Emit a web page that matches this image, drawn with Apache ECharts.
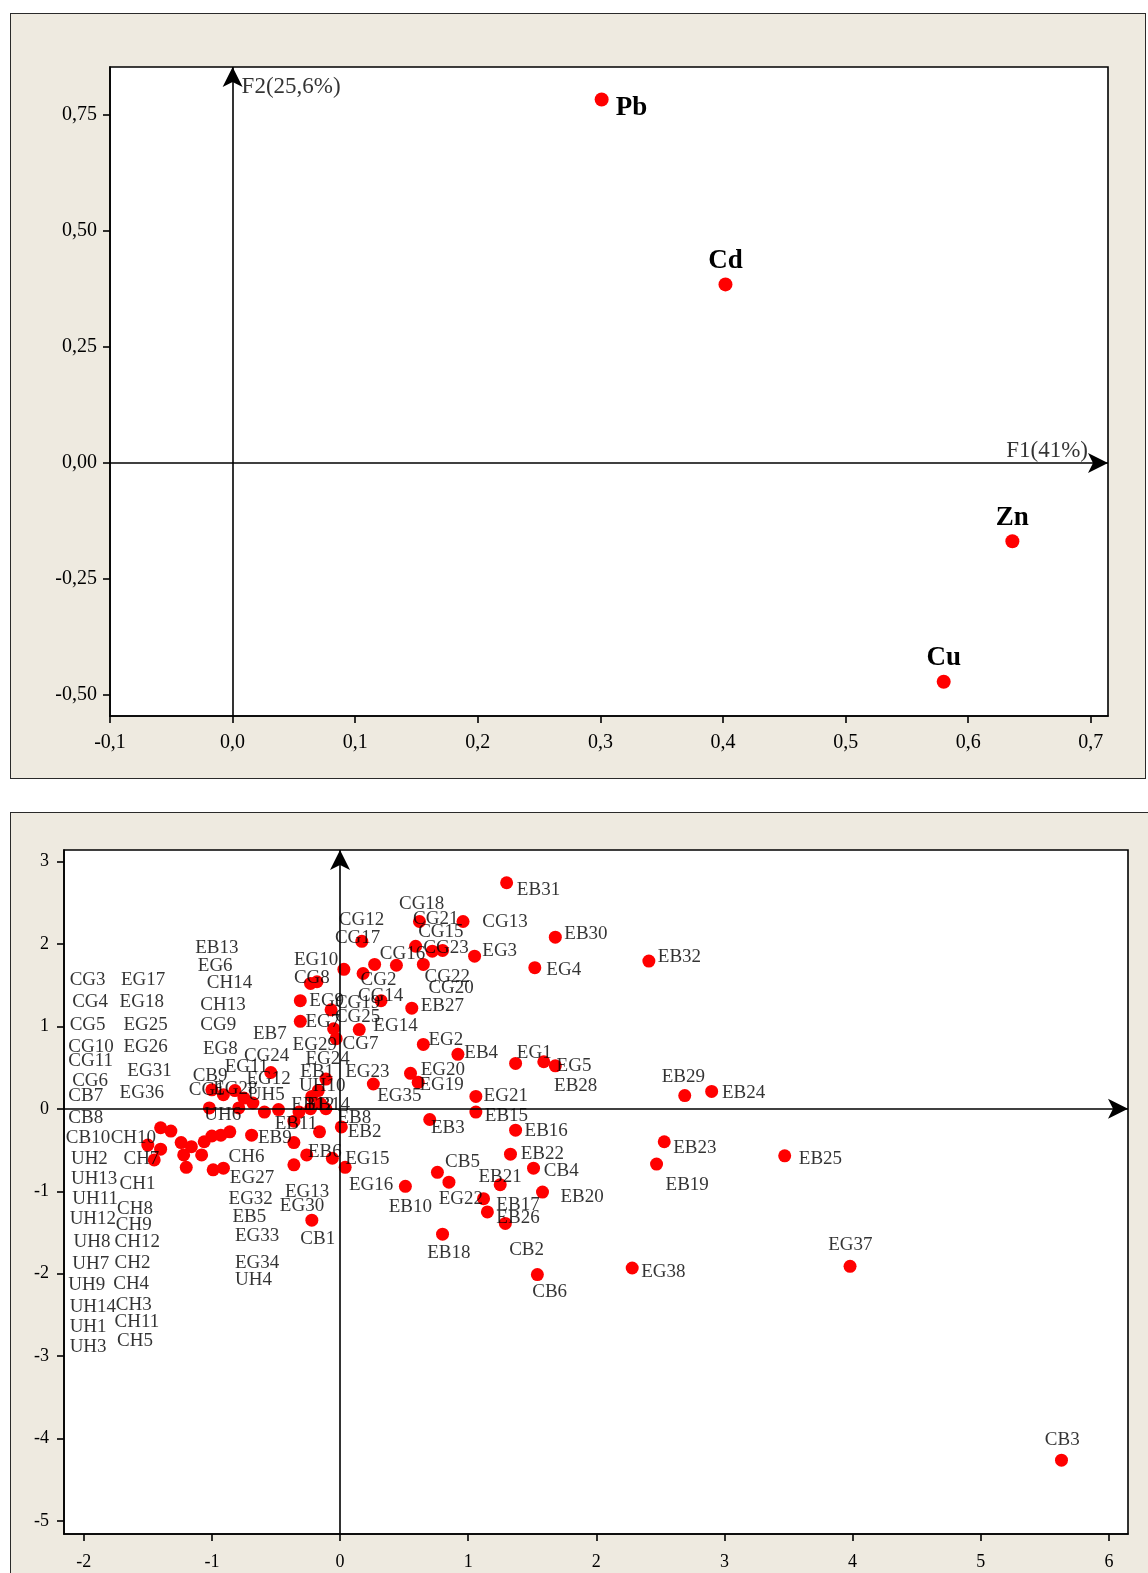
<!DOCTYPE html>
<html><head><meta charset="utf-8">
<script src="https://cdn.jsdelivr.net/npm/echarts@6.0.0/dist/echarts.min.js"></script>
<style>
html,body{margin:0;padding:0;background:#fff;}
#wrap{position:relative;width:1148px;height:1573px;overflow:hidden;}
.panel{position:absolute;background:#EEEAE0;border:1.5px solid #2a2a2a;box-sizing:border-box;}
#chart{position:absolute;left:0;top:0;width:1148px;height:1573px;}
</style></head><body>
<div id="wrap">
<div class="panel" style="left:10px;top:13px;width:1136px;height:766px;"></div>
<div class="panel" style="left:10px;top:812px;width:1170px;height:800px;"></div>
<div id="chart"></div>
</div>
<script>
// ---------- Data: variables (loadings) ----------
const topVars = ['Pb', 'Cd', 'Zn', 'Cu'];
const topF1 = [0.301, 0.402, 0.636, 0.580];
const topF2 = [0.784, 0.385, -0.169, -0.472];
const topXTicks = [-0.1, 0, 0.1, 0.2, 0.3, 0.4, 0.5, 0.6, 0.7];
const topYTicks = [-0.5, -0.25, 0, 0.25, 0.5, 0.75];
const topAxisNames = ['F1(41%)', 'F2(25,6%)'];

// ---------- Data: sample scores ----------
const scoreF1 = [
  1.30, 0.62, 0.96, 1.68, 0.17, 0.59, 0.72, 0.80, 1.05, 0.03, 0.27, 0.44, 0.65, 1.52, 0.18, -0.23, -0.18,
  0.32, -0.31, -0.07, 0.56, -0.31, -0.05, -0.03, 0.15, 0.65, 0.92, 1.37, 1.59, 1.68, 0.55, 0.61, 0.26,
  1.06, 1.06, 0.70, 1.37, 1.33, 1.51, 0.76, 0.85, 0.51, 1.25, 1.58, 1.12, 1.15, 1.29, 0.80, 1.54,
  2.41, 2.69, 2.90, 2.53, 2.47, 3.47, 2.28, 3.98, 5.63,
  -1.00, -0.91, -0.82, -0.75, -0.68, -1.02, -0.79, -0.59, -0.48, -0.32, -0.23, -0.15, -0.11, -0.17, -0.11, -0.22, -0.54,
  -1.40, -1.32, -1.50, -1.40, -1.45, -1.24, -1.16, -1.22, -1.20, -1.08, -1.06, -1.00, -0.93, -0.86, -0.99, -0.91, -0.69,
  -0.36, -0.16, 0.01, -0.36, -0.26, -0.36, -0.06, 0.04, -0.22
];
const scoreF2 = [
  2.74, 2.27, 2.27, 2.08, 2.03, 1.97, 1.91, 1.92, 1.85, 1.69, 1.75, 1.74, 1.75, 1.71, 1.64, 1.52, 1.54,
  1.31, 1.31, 1.20, 1.22, 1.06, 0.97, 0.85, 0.96, 0.78, 0.66, 0.55, 0.57, 0.52, 0.43, 0.32, 0.30,
  0.15, -0.04, -0.13, -0.26, -0.55, -0.72, -0.77, -0.89, -0.94, -0.92, -1.01, -1.09, -1.25, -1.39, -1.52, -2.01,
  1.79, 0.16, 0.21, -0.40, -0.67, -0.57, -1.93, -1.91, -4.26,
  0.23, 0.17, 0.22, 0.13, 0.07, 0.01, 0.01, -0.04, -0.01, -0.04, 0.00, 0.06, 0.00, 0.22, 0.36, 0.15, 0.44,
  -0.23, -0.27, -0.44, -0.49, -0.62, -0.41, -0.46, -0.56, -0.71, -0.56, -0.40, -0.33, -0.32, -0.28, -0.74, -0.72, -0.32,
  -0.15, -0.28, -0.22, -0.41, -0.56, -0.68, -0.60, -0.71, -1.35
];

// sample names and the place (F1,F2) where each name is written
const sampleNames = [
  'CG3','EG17','CG4','EG18','CG5','EG25','CG10','EG26','CG11','EG31','CG6','EG36','CB7','CB8','CB10','CH10',
  'UH2','CH7','UH13','CH1','UH11','CH8','UH12','CH9','UH8','CH12','UH7','CH2','UH9','CH4','UH14','CH3',
  'UH1','CH11','UH3','CH5',
  'EB13','EG6','CH14','CH13','CG9','EB7','EG8','CG24','EG29','EG24','EG11','EB1','CB9','EG12','UH10','CG1',
  'EG28','UH5','EB12','EB14','UH6','EB11','EB9','EB8','EB2','CH6','EB6','EG15','EG27','EG16','EG13','EG32',
  'EG30','EB5','EG33','CB1','EG34','UH4',
  'EB31','CG18','CG12','CG21','CG13','CG15','CG17','EB30','CG23','CG16','EG3','EG10','EG4','CG8','CG22','CG2',
  'CG20','CG14','EG9','CG19','EB27','CG25','EG7','EG14','CG7','EG2','EB4','EG1','EG5','EG23','EG20','EB28',
  'EG19','EG35','EG21','EB15','EB3','EB16','EB22','CB5','CB4','EB21','EB10','EG22','EB20','EB17','EB26','EB18',
  'CB2','CB6',
  'EB32','EB29','EB24','EB23','EB25','EB19','EG37','EG38','CB3'
];
const nameF1 = [
  -2.11,-1.71,-2.09,-1.72,-2.11,-1.69,-2.12,-1.69,-2.12,-1.66,-2.09,-1.72,-2.12,-2.12,-2.14,-1.79,
  -2.10,-1.69,-2.10,-1.72,-2.09,-1.74,-2.11,-1.75,-2.08,-1.76,-2.09,-1.76,-2.12,-1.77,-2.11,-1.75,
  -2.11,-1.76,-2.11,-1.74,
  -1.13,-1.11,-1.04,-1.09,-1.09,-0.68,-1.07,-0.75,-0.37,-0.27,-0.90,-0.31,-1.15,-0.73,-0.32,-1.18,
  -0.99,-0.72,-0.38,-0.26,-1.06,-0.51,-0.64,-0.02,0.06,-0.87,-0.25,0.04,-0.86,0.07,-0.43,-0.87,
  -0.47,-0.84,-0.82,-0.31,-0.82,-0.82,
  1.38,0.46,-0.01,0.57,1.11,0.61,-0.04,1.75,0.65,0.31,1.11,-0.36,1.61,-0.36,0.66,0.16,
  0.69,0.14,-0.24,-0.04,0.63,-0.04,-0.27,0.26,0.02,0.69,0.97,1.38,1.69,0.04,0.63,1.67,
  0.62,0.29,1.12,1.13,0.71,1.44,1.41,0.82,1.59,1.08,0.38,0.77,1.72,1.22,1.22,0.68,
  1.32,1.50,
  2.48,2.51,2.98,2.60,3.58,2.54,3.81,2.35,5.50
];
const nameF2 = [
  1.56,1.56,1.29,1.29,1.02,1.02,0.75,0.75,0.58,0.46,0.34,0.19,0.15,-0.11,-0.36,-0.36,
  -0.61,-0.61,-0.85,-0.91,-1.09,-1.22,-1.34,-1.41,-1.62,-1.62,-1.88,-1.87,-2.14,-2.12,-2.40,-2.38,
  -2.65,-2.58,-2.89,-2.82,
  1.95,1.73,1.52,1.26,1.01,0.91,0.73,0.64,0.77,0.60,0.51,0.45,0.40,0.36,0.27,0.23,
  0.24,0.17,0.05,0.05,-0.07,-0.19,-0.36,-0.11,-0.28,-0.58,-0.52,-0.61,-0.84,-0.92,-1.01,-1.09,
  -1.18,-1.31,-1.54,-1.58,-1.87,-2.08,
  2.65,2.48,2.29,2.30,2.26,2.14,2.07,2.12,1.95,1.88,1.91,1.80,1.68,1.58,1.60,1.56,
  1.46,1.37,1.31,1.28,1.24,1.11,1.05,1.00,0.79,0.83,0.67,0.68,0.52,0.45,0.47,0.28,
  0.29,0.16,0.16,-0.09,-0.23,-0.27,-0.55,-0.64,-0.75,-0.83,-1.19,-1.09,-1.07,-1.17,-1.33,-1.75,
  -1.71,-2.22,
  1.84,0.38,0.19,-0.47,-0.61,-0.92,-1.65,-1.98,-4.01
];
const botXTicks = [-2, -1, 0, 1, 2, 3, 4, 5, 6];
const botYTicks = [-5, -4, -3, -2, -1, 0, 1, 2, 3];

// ---------- Layout ----------
const FONT = '"Liberation Serif","Times New Roman",serif';
const topR = {xMin: -0.1, xMax: 0.714, yMin: -0.546, yMax: 0.854};
const botR = {xMin: -2.154, xMax: 6.149, yMin: -5.155, yMax: 3.137};
const topG = {left: 110, top: 67, width: 998, height: 649};
const botG = {left: 64, top: 850, width: 1064, height: 684};
const ARROW = [15, 20];

function crossLines(r) {
  return {
    silent: true,
    symbol: ['none', 'arrow'],
    symbolSize: ARROW,
    lineStyle: {color: '#000', width: 1.6, type: 'solid'},
    label: {show: false},
    emphasis: {disabled: true},
    data: [
      [{coord: [0, r.yMin]}, {coord: [0, r.yMax]}],
      [{coord: [r.xMin, 0]}, {coord: [r.xMax, 0]}]
    ]
  };
}

function valAxis(gi, r, isX, ticks, fmt, fs, margin) {
  return {
    type: 'value', gridIndex: gi,
    min: isX ? r.xMin : r.yMin, max: isX ? r.xMax : r.yMax,
    position: isX ? 'bottom' : 'left',
    axisLine: {show: true, onZero: false, lineStyle: {color: '#000', width: 1.6}},
    axisTick: {show: true, length: 7, customValues: ticks, lineStyle: {color: '#000', width: 1.6}},
    axisLabel: {show: true, customValues: ticks, formatter: fmt, color: '#000',
      fontFamily: FONT, fontSize: fs, margin: margin},
    splitLine: {show: false}
  };
}

const fmtTopX = v => v.toFixed(1).replace('.', ',');
const fmtTopY = v => v.toFixed(2).replace('.', ',');
const fmtBot = v => String(Math.round(v));

const topPts = topVars.map((n, i) => {
  const isPb = n === 'Pb';
  return {
    name: n, value: [topF1[i], topF2[i]],
    label: isPb ? {position: 'right', distance: 7, offset: [0, 9]} : {position: 'top', distance: 3}
  };
});

const scorePts = scoreF1.map((x, i) => [x, scoreF2[i]]);
const namePts = sampleNames.map((n, i) => ({name: n, value: [nameF1[i], nameF2[i]]}));

const option = {
  animation: false,
  backgroundColor: 'transparent',
  grid: [
    Object.assign({show: true, backgroundColor: '#fff', borderColor: '#000', borderWidth: 1.6}, topG),
    Object.assign({show: true, backgroundColor: '#fff', borderColor: '#000', borderWidth: 1.6}, botG)
  ],
  xAxis: [
    valAxis(0, topR, true, topXTicks, fmtTopX, 20, 17),
    valAxis(1, botR, true, botXTicks, fmtBot, 18, 19)
  ],
  yAxis: [
    valAxis(0, topR, false, topYTicks, fmtTopY, 20, 13),
    valAxis(1, botR, false, botYTicks, fmtBot, 18, 15)
  ],
  series: [
    {
      type: 'scatter', xAxisIndex: 0, yAxisIndex: 0, z: 3,
      symbol: 'circle', symbolSize: 14,
      itemStyle: {color: '#ff0000', opacity: 1},
      label: {show: true, formatter: '{b}', color: '#000', fontFamily: FONT, fontSize: 27, fontWeight: 'bold'},
      data: topPts,
      markLine: crossLines(topR)
    },
    {
      type: 'scatter', xAxisIndex: 0, yAxisIndex: 0, z: 4, symbolSize: 0, silent: true,
      itemStyle: {color: 'transparent'},
      label: {show: true, formatter: '{b}', color: '#000', fontFamily: FONT, fontSize: 23},
      data: [
        {name: topAxisNames[0], value: [topR.xMax, 0],
          label: {position: [-20, -12], align: 'right', verticalAlign: 'middle'}},
        {name: topAxisNames[1], value: [0, topR.yMax],
          label: {position: [9, 20], align: 'left', verticalAlign: 'middle'}}
      ]
    },
    {
      type: 'scatter', xAxisIndex: 1, yAxisIndex: 1, z: 3,
      symbol: 'circle', symbolSize: 13,
      itemStyle: {color: '#ff0000', opacity: 1},
      data: scorePts,
      markLine: crossLines(botR)
    },
    {
      type: 'scatter', xAxisIndex: 1, yAxisIndex: 1, z: 5, symbolSize: 0, silent: true,
      itemStyle: {color: 'transparent'},
      label: {show: true, formatter: '{b}', color: '#000', fontFamily: FONT, fontSize: 19,
        position: [0, 0], align: 'left', verticalAlign: 'middle'},
      labelLayout: {hideOverlap: false},
      data: namePts
    }
  ]
};

const chart = echarts.init(document.getElementById('chart'), null, {renderer: 'canvas'});
chart.setOption(option);
</script>
</body></html>
